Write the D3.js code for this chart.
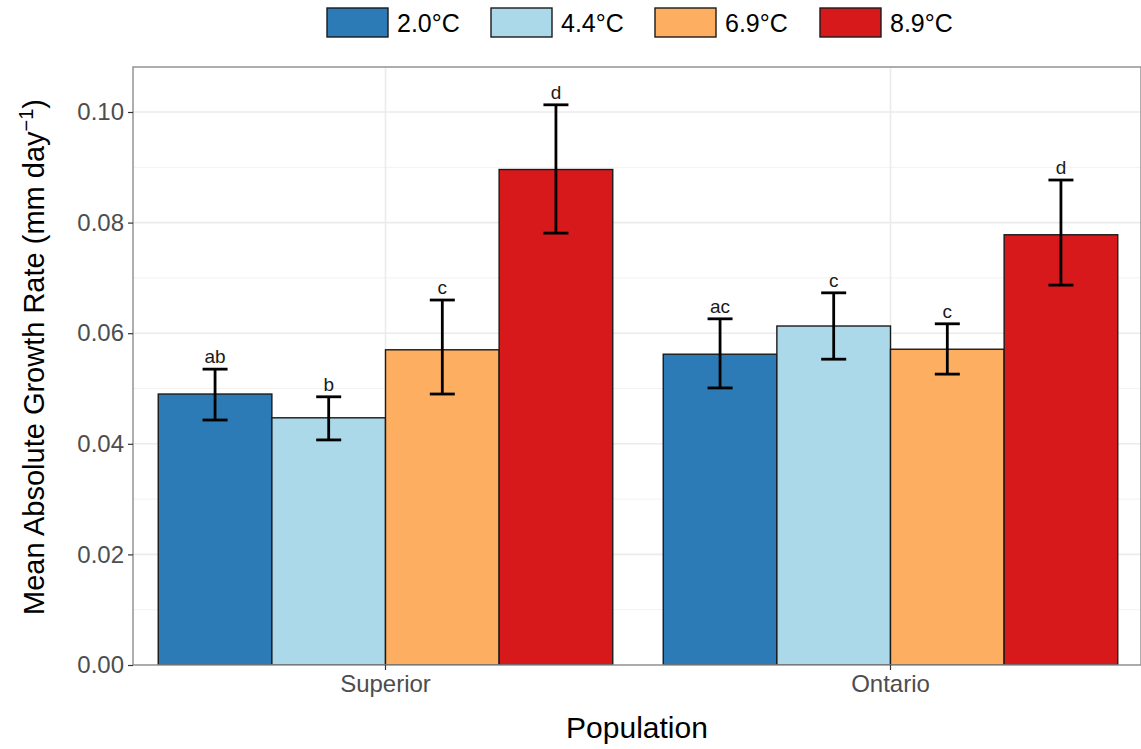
<!DOCTYPE html>
<html><head><meta charset="utf-8">
<script src="https://cdn.jsdelivr.net/npm/d3@7"></script>
<style>body{margin:0;background:#fff}svg{display:block;font-family:Arial,"Liberation Sans",sans-serif}</style>
</head><body><svg id="c" width="1141" height="749"></svg>
<script>
const populations = ["Superior", "Ontario"];
const temps = ["2.0°C", "4.4°C", "6.9°C", "8.9°C"];
const colors = ["#2c7bb6", "#abd9e9", "#fdae61", "#d7191c"];
// means[temp][population]
const means = [[0.0490, 0.0562], [0.0447, 0.0613], [0.0570, 0.0571], [0.0896, 0.0778]];
const lower = [[0.0443, 0.0501], [0.0407, 0.0553], [0.0490, 0.0526], [0.0781, 0.0687]];
const upper = [[0.0535, 0.0626], [0.0485, 0.0673], [0.0660, 0.0617], [0.1013, 0.0877]];
const letters = [["ab", "ac"], ["b", "c"], ["c", "c"], ["d", "d"]];
const yTicks = [0, 0.02, 0.04, 0.06, 0.08, 0.10];
const yMinor = [0.01, 0.03, 0.05, 0.07, 0.09];

const svg = d3.select("#c");
const L = 133, R = 1141, T = 67, B = 665;
const y = d3.scaleLinear().domain([0, 0.10]).range([B, 112]);
const x = d3.scaleBand().domain(populations).range([L, L + 1010]).paddingInner(0.1).paddingOuter(0.05);
const xi = d3.scaleBand().domain(temps).range([0, x.bandwidth()]);

svg.append("defs").append("clipPath").attr("id","pc").append("rect").attr("x",L).attr("y",T).attr("width",R-L).attr("height",B-T);
const g = svg.append("g").attr("clip-path","url(#pc)");

// grid
g.selectAll(".ymin").data(yMinor).join("line").attr("x1",L).attr("x2",R).attr("y1",d=>y(d)).attr("y2",d=>y(d)).attr("stroke","#f2f2f2").attr("stroke-width",1);
g.selectAll(".ymaj").data(yTicks).join("line").attr("x1",L).attr("x2",R).attr("y1",d=>y(d)).attr("y2",d=>y(d)).attr("stroke","#ebebeb").attr("stroke-width",1.6);
g.selectAll(".xmaj").data(populations).join("line").attr("x1",d=>x(d)+x.bandwidth()/2).attr("x2",d=>x(d)+x.bandwidth()/2).attr("y1",T).attr("y2",B).attr("stroke","#ebebeb").attr("stroke-width",1.6);

// bars
const rows = [];
temps.forEach((t,i)=>populations.forEach((p,j)=>rows.push({t,p,i,j,m:means[i][j],lo:lower[i][j],hi:upper[i][j],lab:letters[i][j]})));
g.selectAll(".bar").data(rows).join("rect")
  .attr("x",d=>x(d.p)+xi(d.t)).attr("width",xi.bandwidth())
  .attr("y",d=>y(d.m)).attr("height",d=>y(0)-y(d.m))
  .attr("fill",d=>colors[d.i]).attr("stroke","#1a1a1a").attr("stroke-width",1.4);

// error bars
const cap = 12.5;
const cx = d=>x(d.p)+xi(d.t)+xi.bandwidth()/2;
const eb = g.selectAll(".eb").data(rows).join("g").attr("stroke","#000").attr("stroke-width",2.8);
eb.append("line").attr("x1",cx).attr("x2",cx).attr("y1",d=>y(d.lo)).attr("y2",d=>y(d.hi));
eb.append("line").attr("x1",d=>cx(d)-cap).attr("x2",d=>cx(d)+cap).attr("y1",d=>y(d.lo)).attr("y2",d=>y(d.lo));
eb.append("line").attr("x1",d=>cx(d)-cap).attr("x2",d=>cx(d)+cap).attr("y1",d=>y(d.hi)).attr("y2",d=>y(d.hi));

// letters
g.selectAll(".lab").data(rows).join("text")
  .attr("x",cx).attr("y",d=>y(d.hi)-6)
  .attr("text-anchor","middle").attr("font-size",19).attr("fill","#1a1a1a").text(d=>d.lab);

// panel border
svg.append("rect").attr("x",L).attr("y",T).attr("width",R-L).attr("height",B-T).attr("fill","none").attr("stroke","#8c8c8c").attr("stroke-width",1.4);

// y axis
const ya = svg.append("g").attr("transform",`translate(${L},0)`)
  .call(d3.axisLeft(y).tickValues(yTicks).tickFormat(d3.format(".2f")).tickSize(5).tickPadding(4));
ya.select(".domain").remove();
ya.selectAll(".tick line").attr("stroke","#333").attr("stroke-width",1.2);
ya.selectAll(".tick text").attr("font-size",24).attr("fill","#4d4d4d").attr("font-family","Arial,'Liberation Sans',sans-serif");

// x axis
const xa = svg.append("g").attr("transform",`translate(0,${B})`)
  .call(d3.axisBottom(x).tickSize(5).tickPadding(5));
xa.select(".domain").remove();
xa.selectAll(".tick line").attr("stroke","#333").attr("stroke-width",1.2);
xa.selectAll(".tick text").attr("font-size",24).attr("fill","#4d4d4d").attr("font-family","Arial,'Liberation Sans',sans-serif");

// titles
svg.append("text").attr("x",637).attr("y",738).attr("text-anchor","middle").attr("font-size",30).attr("fill","#000").text("Population");
const yt = svg.append("text").attr("transform",`translate(44,357) rotate(-90)`).attr("text-anchor","middle").attr("font-size",29).attr("fill","#000");
yt.append("tspan").text("Mean Absolute Growth Rate (mm day");
yt.append("tspan").attr("dy",-11).attr("font-size",20).text("−1");
yt.append("tspan").attr("dy",11).text(")");

// legend
const legX = [327, 491, 655, 820];
const lg = svg.selectAll(".leg").data(temps).join("g").attr("transform",(d,i)=>`translate(${legX[i]},8)`);
lg.append("rect").attr("width",61).attr("height",29).attr("fill",(d,i)=>colors[i]).attr("stroke","#1a1a1a").attr("stroke-width",1.4);
lg.append("text").attr("x",70).attr("y",24).attr("font-size",25).attr("fill","#000").text(d=>d);
</script></body></html>
